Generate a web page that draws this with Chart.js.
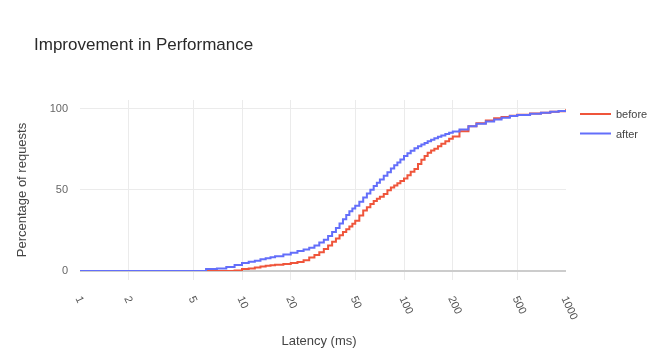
<!DOCTYPE html>
<html lang="en">
<head>
    <meta charset="UTF-8">
    <title>Improvement in Performance</title>
    <script src="https://cdn.jsdelivr.net/npm/chart.js"></script>
    <style>
        body { margin: 0; background: #fff; }
        #perfChart { display: block; }
    </style>
</head>
<body>
    <canvas id="perfChart" width="665" height="360"></canvas>

    <script>
        // latency (ms) sample points
        const latency = [1, 6, 7, 8, 9, 10, 11, 12, 13, 14, 15, 16, 18, 20, 22, 24, 26, 28,
            30, 32, 34, 36, 38, 40, 42, 44, 46, 48, 50, 53, 56, 59, 62, 65, 68, 71, 75, 79, 83, 87, 91, 95,
            100, 105, 110, 116, 122, 128, 134, 140, 147, 154, 162, 170, 180, 190, 200,
            220, 250, 280, 320, 360, 400, 450, 500, 600, 700, 800, 900, 1000];

        // cumulative % of requests
        const before = [null, 0, 0, 0, 0.3, 1.2, 1.6, 2.2, 2.7, 3.2, 3.6, 3.9, 4.3, 4.9, 5.6, 6.6, 8.3, 9.8,
            11.6, 13.5, 15.8, 18, 20, 22, 24, 25.8, 27.5, 29.2, 31, 34.3, 37.3, 39.3, 41.4, 43.2, 44.5, 45.8, 47.5, 49.8, 51.5, 52.8, 54.2, 55.6,
            57, 59, 61.2, 63, 66, 68.6, 71, 73, 74.4, 75.5, 77, 78.5, 80.1, 81.6, 83,
            86.2, 89.3, 91.2, 92.8, 94.2, 95, 95.8, 96.4, 97.2, 97.6, 98.3, 98.6, 99.8];

        const after = [0, 1.2, 1.5, 2.5, 3.7, 5, 5.7, 6.4, 7.2, 7.8, 8.5, 9.1, 10.2, 11.2, 12.4, 13.2, 14.3, 15.8,
            17.6, 19.3, 21.6, 24, 26.6, 29.3, 32, 34.6, 36.8, 38.6, 40.3, 42.8, 45.3, 47.8, 50.2, 52.4, 54.5, 56.4, 58.7, 61, 63.2, 65.2, 67, 68.8,
            71, 72.7, 74.2, 75.7, 76.9, 78, 79, 80, 81, 81.9, 82.8, 83.6, 84.5, 85.3, 86,
            87.3, 89.3, 90.9, 92.3, 93.5, 94.6, 95.6, 96.2, 97, 97.6, 98.2, 98.7, 99.3];

        const xTicks = [1, 2, 5, 10, 20, 50, 100, 200, 500, 1000];
        const yTicks = [0, 50, 100];

        const seriesNames = ['before', 'after'];
        const seriesColors = ['#EF553B', '#636EFA'];

        const FONT = '"Liberation Sans", Arial, Helvetica, sans-serif';
        Chart.defaults.font.family = FONT;

        // titles, rotated x labels and legend drawn by hand
        const decorations = {
            id: 'decorations',
            afterDraw(chart) {
                const ctx = chart.ctx;
                const xScale = chart.scales.x;
                ctx.save();

                ctx.fillStyle = '#2a2a2a';
                ctx.font = '17px ' + FONT;
                ctx.textAlign = 'left';
                ctx.textBaseline = 'alphabetic';
                ctx.fillText('Improvement in Performance', 34, 50);

                // x tick labels, turned clockwise
                ctx.fillStyle = '#555';
                ctx.font = '11px ' + FONT;
                ctx.textBaseline = 'middle';
                xTicks.forEach(v => {
                    const px = xScale.getPixelForValue(v);
                    ctx.save();
                    ctx.translate(px - 2, 297);
                    ctx.rotate(65 * Math.PI / 180);
                    ctx.fillText(String(v), 0, 0);
                    ctx.restore();
                });

                // axis titles
                ctx.fillStyle = '#444';
                ctx.font = '13px ' + FONT;
                ctx.textAlign = 'center';
                ctx.fillText('Latency (ms)', (chart.chartArea.left + chart.chartArea.right) / 2 - 4, 341);
                ctx.save();
                ctx.translate(22, 190);
                ctx.rotate(-Math.PI / 2);
                ctx.fillText('Percentage of requests', 0, 0);
                ctx.restore();

                // legend
                ctx.font = '11px ' + FONT;
                ctx.textAlign = 'left';
                seriesNames.forEach((name, i) => {
                    const y = 114 + i * 19.5;
                    ctx.strokeStyle = seriesColors[i];
                    ctx.lineWidth = 2;
                    ctx.beginPath();
                    ctx.moveTo(580, y);
                    ctx.lineTo(611, y);
                    ctx.stroke();
                    ctx.fillStyle = '#444';
                    ctx.fillText(name, 616, y + 1);
                });

                ctx.restore();
            }
        };

        const perfChart = new Chart(document.getElementById('perfChart').getContext('2d'), {
            type: 'line',
            data: {
                datasets: [before, after].map((vals, i) => ({
                    label: seriesNames[i],
                    data: latency.map((x, j) => ({ x: x, y: vals[j] })),
                    borderColor: seriesColors[i],
                    backgroundColor: seriesColors[i],
                    borderWidth: 2,
                    pointRadius: 0,
                    stepped: true,
                    fill: false,
                    order: i === 1 ? 0 : 1
                }))
            },
            options: {
                responsive: false,
                animation: false,
                layout: { padding: { top: 100, right: 99, left: 0, bottom: 0 } },
                plugins: {
                    legend: { display: false },
                    title: { display: false },
                    tooltip: { enabled: false }
                },
                scales: {
                    x: {
                        type: 'logarithmic',
                        min: 1,
                        max: 1000,
                        afterBuildTicks: scale => { scale.ticks = xTicks.map(v => ({ value: v })); },
                        afterFit: scale => { scale.height = 89; },
                        ticks: { display: false },
                        border: { display: false },
                        grid: {
                            color: c => (c.tick && (c.tick.value === 1 || c.tick.value === 1000)) ? 'rgba(0,0,0,0)' : '#ebebeb',
                            drawTicks: true,
                            tickLength: 9
                        }
                    },
                    y: {
                        min: 0,
                        max: 105.5,
                        afterBuildTicks: scale => { scale.ticks = yTicks.map(v => ({ value: v })); },
                        afterFit: scale => { scale.width = 80; },
                        ticks: { color: '#666', padding: 12, font: { size: 11 } },
                        border: { display: false },
                        grid: {
                            color: c => (c.tick && c.tick.value === 0) ? '#cccccc' : '#ebebeb',
                            lineWidth: c => (c.tick && c.tick.value === 0) ? 2 : 1,
                            drawTicks: false
                        }
                    }
                }
            },
            plugins: [decorations]
        });
    </script>
</body>
</html>
